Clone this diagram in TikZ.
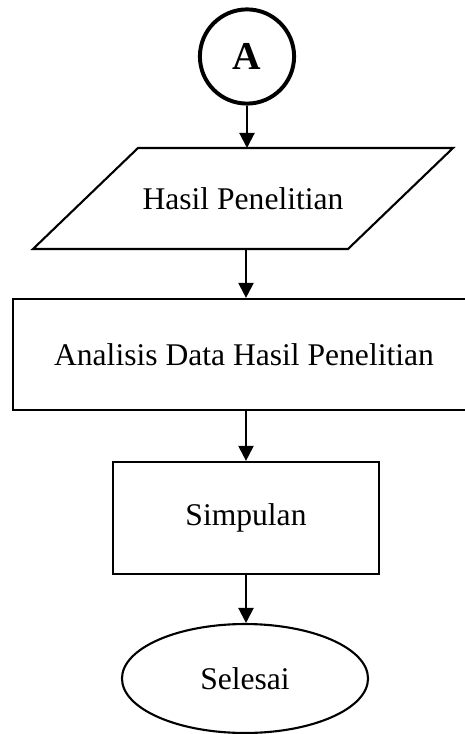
\documentclass[tikz,border=0pt]{standalone}
\usepackage{fontspec}
\setmainfont{Liberation Serif}
\usetikzlibrary{arrows.meta,positioning,shapes.geometric,calc}

\begin{document}
\begin{tikzpicture}[x=0.38pt, y=-0.38pt,
    procbox/.style={draw, line width=0.8pt, rectangle, inner sep=0pt, font=\fontsize{12}{14}\selectfont},
    iotext/.style={inner sep=0pt, font=\fontsize{12}{14}\selectfont},
    iobox/.style={line width=0.8pt, line join=miter},
    termbox/.style={draw, line width=0.8pt, ellipse, inner sep=0pt, font=\fontsize{12}{14}\selectfont},
    connbox/.style={draw, line width=1.5pt, circle, inner sep=0pt, font=\fontsize{15}{17}\selectfont\bfseries},
    flowarrow/.style={-{Triangle[width=5.7pt,length=5.7pt]}, line width=0.8pt}]
  \useasboundingbox (0,0) rectangle (465,734);
  \clip (0,0) rectangle (465,734);

  %% Connector
  \node[connbox, minimum size=35.8pt] (conA) at (247,56.5) {A};

  %% Flow steps
  \node[iotext] (hasil) at (243,198.5) {Hasil Penelitian};
  \coordinate (hasilN) at (246,148);
  \coordinate (hasilS) at (246,249);
  \draw[iobox] ($(hasil)+(-105,-50.5)$) -- ($(hasil)+(210,-50.5)$)
    -- ($(hasil)+(105,50.5)$) -- ($(hasil)+(-210,50.5)$) -- cycle;
  \node[procbox, minimum width=175.6pt, minimum height=42.2pt] (analisis) at (244,354.5) {Analisis Data Hasil Penelitian};
  \node[procbox, minimum width=101pt, minimum height=42.6pt] (simpulan) at (246,518) {Simpulan};
  \node[termbox, minimum width=93.5pt, minimum height=41.4pt] (selesai) at (245,678.5) {Selesai};

  %% Arrows
  \draw[flowarrow] (conA.south) -- (conA.south |- hasilN);
  \draw[flowarrow] (hasilS) -- (hasilS |- analisis.north);
  \draw[flowarrow] (hasilS |- analisis.south) -- (hasilS |- simpulan.north);
  \draw[flowarrow] (hasilS |- simpulan.south) -- (hasilS |- selesai.north);
\end{tikzpicture}
\end{document}
